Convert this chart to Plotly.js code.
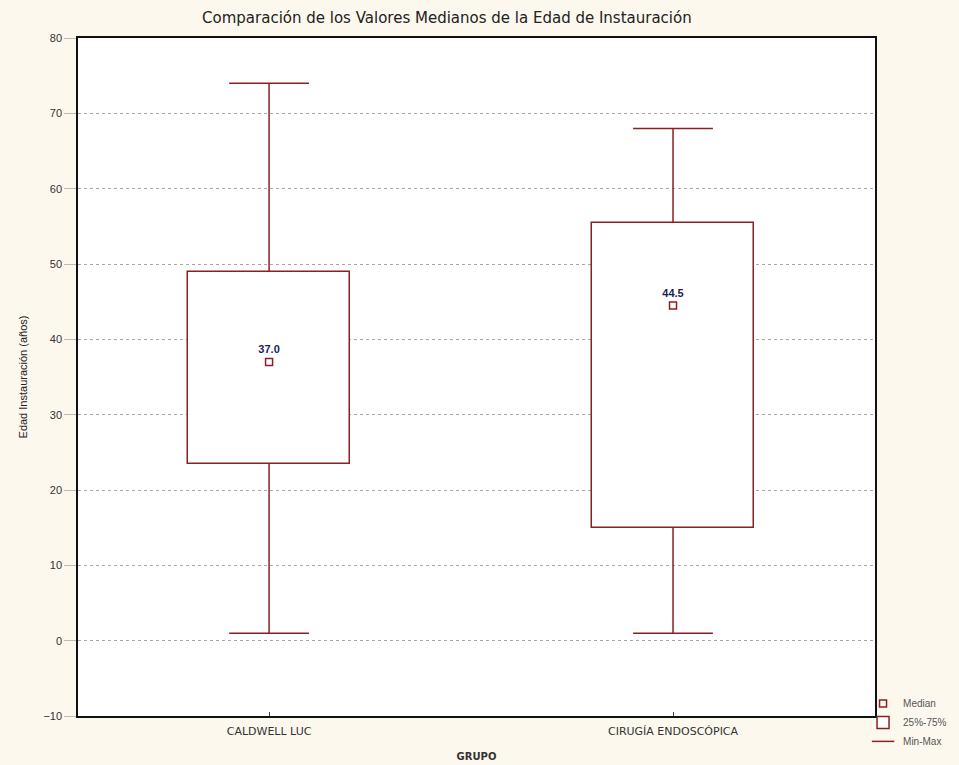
<!DOCTYPE html>
<html>
<head>
<meta charset="utf-8">
<script src="https://cdn.plot.ly/plotly-3.0.1.min.js"></script>
<style>html,body{margin:0;padding:0;background:#fdf8ee;}</style>
</head>
<body>
<div id="chart" style="width:959px;height:765px;"></div>
<script>
// Data
const categories = ['CALDWELL LUC', 'CIRUGÍA ENDOSCÓPICA'];
const minVals    = [1, 1];
const q1Vals     = [23.5, 15];
const medianVals = [37.0, 44.5];
const q3Vals     = [49, 55.5];
const maxVals    = [74, 68];
const medianLabels = ['37.0', '44.5'];
const yTickVals  = [-10, 0, 10, 20, 30, 40, 50, 60, 70, 80];

const RED = '#8b1f24';

// whisker segments
const wx = [], wy = [];
categories.forEach((c, i) => {
  wx.push(c, c, null, c, c, null);
  wy.push(q3Vals[i], maxVals[i], null, q1Vals[i], minVals[i], null);
});
const capX = categories.concat(categories);
const capY = maxVals.concat(minVals);

const traces = [
  {
    type: 'bar', x: categories, base: q1Vals,
    y: q3Vals.map((v, i) => v - q1Vals[i]),
    width: 0.4, name: '25%-75%', legendrank: 2,
    marker: {color: '#ffffff', line: {color: RED, width: 1.5}},
    hoverinfo: 'skip'
  },
  {
    type: 'scatter', mode: 'lines', x: wx, y: wy,
    line: {color: RED, width: 1.5}, showlegend: false, hoverinfo: 'skip'
  },
  {
    type: 'scatter', mode: 'markers', x: capX, y: capY, name: 'Min-Max', legendrank: 3,
    marker: {symbol: 'line-ew', size: 57, color: RED, line: {color: RED, width: 1.5}},
    hoverinfo: 'skip'
  },
  {
    type: 'scatter', mode: 'markers', x: categories, y: medianVals, name: 'Median', legendrank: 1,
    marker: {symbol: 'square-open', size: 7, color: RED, line: {color: RED, width: 1.5}}
  },
  {
    type: 'scatter', mode: 'markers+text', x: categories, y: medianVals, text: medianLabels,
    textposition: 'top center', showlegend: false, hoverinfo: 'skip',
    marker: {size: 8, opacity: 0},
    textfont: {family: 'Liberation Sans, Arial, sans-serif', size: 11, color: '#1c1c5a', weight: 'bold'}
  }
];

const layout = {
  width: 959, height: 765,
  paper_bgcolor: '#fdf8ee', plot_bgcolor: '#ffffff',
  margin: {l: 78, r: 84, t: 38, b: 49, autoexpand: false},
  font: {family: 'Liberation Sans, Arial, sans-serif', color: '#333'},
  title: {
    text: 'Comparación de los Valores Medianos de la Edad de Instauración',
    x: 0.466, xref: 'container', xanchor: 'center',
    y: 0.977, yref: 'container', yanchor: 'middle',
    font: {family: 'DejaVu Sans, sans-serif', size: 15, color: '#222'}
  },
  xaxis: {
    type: 'category', range: [-0.473, 1.5],
    showgrid: false, zeroline: false, automargin: false,
    showline: true, linecolor: '#111', linewidth: 1.5, mirror: true,
    ticks: 'inside', ticklen: 4, tickcolor: '#444', ticklabelstandoff: 4,
    tickfont: {family: 'DejaVu Sans, sans-serif', size: 11, color: '#333'},
    title: {text: 'GRUPO', font: {family: 'DejaVu Sans, sans-serif', size: 10, color: '#333', weight: 'bold'}, standoff: 16}
  },
  yaxis: {
    range: [-10, 80], tickvals: yTickVals, automargin: false,
    showgrid: true, gridcolor: '#a8a8a8', griddash: 'dot', gridwidth: 1,
    zeroline: false,
    showline: true, linecolor: '#111', linewidth: 1.5, mirror: true,
    ticks: 'outside', ticklen: 12, tickcolor: '#bbb',
    tickfont: {size: 11, color: '#333'},
    title: {text: 'Edad Instauración (años)', font: {size: 11, color: '#222'}, standoff: 14}
  },
  showlegend: true,
  legend: {
    x: 0.985, xanchor: 'left', y: 0.04, yanchor: 'top',
    bgcolor: 'rgba(0,0,0,0)', font: {size: 10, color: '#555'},
    tracegroupgap: 0, itemwidth: 30
  },
  bargap: 0
};

Plotly.newPlot('chart', traces, layout, {displayModeBar: false});
</script>
</body>
</html>
